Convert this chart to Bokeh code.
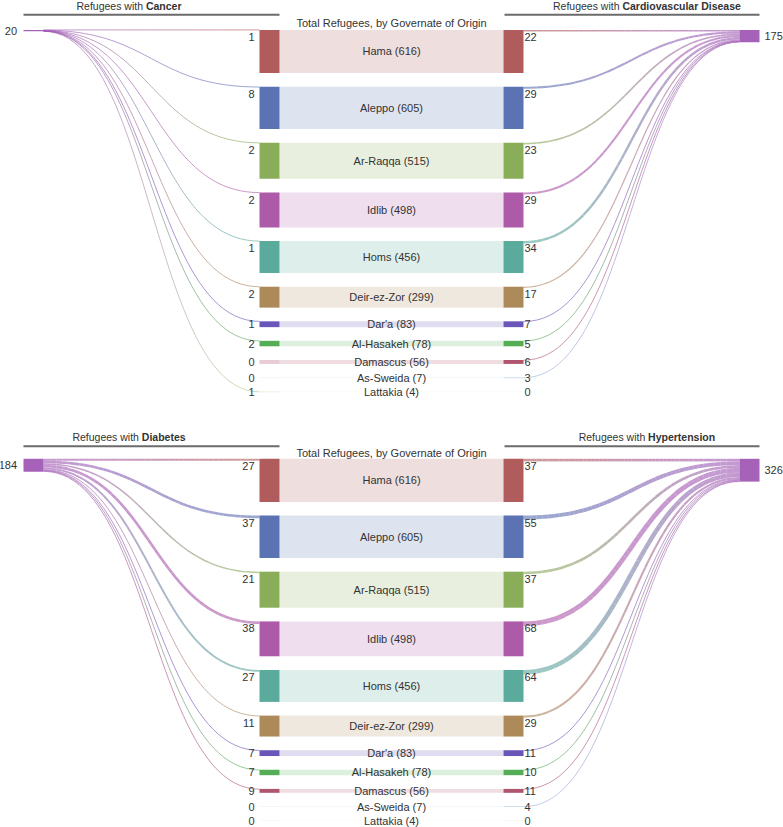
import numpy as np
from bokeh.plotting import figure
from bokeh.models import Range1d
from bokeh.core.properties import value
from bokeh.embed import file_html
from bokeh.resources import INLINE

# ---------------- data ----------------
governates = ["Hama", "Aleppo", "Ar-Raqqa", "Idlib", "Homs", "Deir-ez-Zor",
              "Dar'a", "Al-Hasakeh", "Damascus", "As-Sweida", "Lattakia"]
totals = [616, 605, 515, 498, 456, 299, 83, 78, 56, 7, 4]
cancer = [1, 8, 2, 2, 1, 2, 1, 2, 0, 0, 1]
cardiovascular = [22, 29, 23, 29, 34, 17, 7, 5, 6, 3, 0]
diabetes = [27, 37, 21, 38, 27, 11, 7, 7, 9, 0, 0]
hypertension = [37, 55, 37, 68, 64, 29, 11, 10, 11, 4, 0]
panel_left_names = ["Cancer", "Diabetes"]
panel_right_names = ["Cardiovascular Disease", "Hypertension"]
title_text = "Total Refugees, by Governate of Origin"

# ---------------- style / layout ----------------
gov_colors = ["#b05b5c", "#5b72b3", "#8aad5a", "#ad5aa8", "#5aab9c", "#ad8a5a",
              "#6a55b8", "#55ad55", "#b0556f", "#9ab8d8", "#b8c890"]
disease_color = "#a15ab5"
TXT = "#333333"
FONT = value("Liberation Sans")

W, H = 783, 827
REF_W, REF_H = 783, 827
sx = W / REF_W
sy = H / REF_H

K = 0.07      # px per refugee
GAP = 13.7
tops = [29.4, 458.3]
header_y = [5.2, 436.0]
rule_y = [14.3, 445.8]
title_y = [22.5, 452.0]
left_header_start = [76.0, 71.9]
right_header_start = [552.5, 578.2]
NORMAL_W = 69.4  # screen px of "Refugees with " at 10.5px

NODE_L = (23, 43)
BAR_L = (259, 279)
BAR_R = (503, 523)
NODE_R = (739, 759)

p = figure(width=W, height=H, x_range=Range1d(0, REF_W), y_range=Range1d(REF_H, 0),
           output_backend="svg", toolbar_location=None, min_border=0,
           x_axis_type=None, y_axis_type=None)
p.grid.visible = False
p.outline_line_color = None
p.background_fill_color = "white"
p.border_fill_color = "white"


def hex2rgb(h):
    h = h.lstrip("#")
    return np.array([int(h[i:i + 2], 16) for i in (0, 2, 4)], dtype=float)


def rgb2hex(c):
    c = np.clip(np.round(c), 0, 255).astype(int)
    return "#%02x%02x%02x" % tuple(c)


def add_link(x0, y0, x1, y1, w, c0, c1, n=48):
    t = np.linspace(0, 1, n + 1)
    xm = (x0 + x1) / 2.0
    bx = (1 - t) ** 3 * x0 + 3 * (1 - t) ** 2 * t * xm + 3 * (1 - t) * t ** 2 * xm + t ** 3 * x1
    by = (1 - t) ** 3 * y0 + 3 * (1 - t) ** 2 * t * y0 + 3 * (1 - t) * t ** 2 * y1 + t ** 3 * y1
    a, b = hex2rgb(c0), hex2rgb(c1)
    tm = (t[:-1] + t[1:]) / 2
    cols = [rgb2hex(a + (b - a) * s) for s in tm]
    p.segment(x0=bx[:-1], y0=by[:-1], x1=bx[1:], y1=by[1:], line_color=cols,
              line_width=max(1.0, w * sy), line_alpha=0.62, line_cap="butt")


panels = [(cancer, cardiovascular), (diabetes, hypertension)]
tot = np.array(totals, dtype=float)
heights = tot * K

for pi, (lvals, rvals) in enumerate(panels):
    top0 = tops[pi]
    gtops = top0 + np.concatenate([[0], np.cumsum(heights[:-1] + GAP)])
    gbots = gtops + heights

    # links
    for side, vals in (("L", lvals), ("R", rvals)):
        cum = 0.0
        for i, v in enumerate(vals):
            w = v * K
            if v > 0:
                ynode = top0 + cum + w / 2
                ygov = gtops[i] + w / 2
                if side == "L":
                    add_link(NODE_L[1], ynode, BAR_L[0], ygov, w, disease_color, gov_colors[i])
                else:
                    add_link(BAR_R[1], ygov, NODE_R[0], ynode, w, gov_colors[i], disease_color)
            cum += w

    # middle band
    p.quad(left=BAR_L[1], right=BAR_R[0], top=gtops, bottom=gbots,
           fill_color=gov_colors, fill_alpha=0.2, line_color=None)
    # colored bars
    la = [1.0 if v > 0 else 0.3 for v in lvals]
    ra = [1.0 if v > 0 else 0.3 for v in rvals]
    p.quad(left=BAR_L[0], right=BAR_L[1], top=gtops, bottom=gbots,
           fill_color=gov_colors, fill_alpha=la, line_color=None)
    p.quad(left=BAR_R[0], right=BAR_R[1], top=gtops, bottom=gbots,
           fill_color=gov_colors, fill_alpha=ra, line_color=None)

    # disease nodes
    lsum, rsum = sum(lvals), sum(rvals)
    p.quad(left=[NODE_L[0], NODE_R[0]], right=[NODE_L[1], NODE_R[1]],
           top=[top0, top0], bottom=[top0 + lsum * K, top0 + rsum * K],
           fill_color=disease_color, fill_alpha=0.95, line_color=None)
    p.text(x=[16.5], y=[top0 + lsum * K / 2], text=[str(lsum)], text_align="right",
           text_baseline="middle", text_font=FONT, text_font_size="11px", text_color=TXT)
    p.text(x=[764], y=[top0 + rsum * K / 2], text=[str(rsum)], text_align="left",
           text_baseline="middle", text_font=FONT, text_font_size="11px", text_color=TXT)

    # governate labels
    centers = (gtops + gbots) / 2
    p.text(x=[391] * len(governates), y=centers,
           text=[f"{g} ({t})" for g, t in zip(governates, totals)],
           text_align="center", text_baseline="middle", text_font=FONT,
           text_font_size="11px", text_color=TXT)
    # count labels
    cy = gtops + np.minimum(heights / 2, 7)
    p.text(x=[254] * len(governates), y=cy, text=[str(v) for v in lvals],
           text_align="right", text_baseline="middle", text_font=FONT,
           text_font_size="11px", text_color=TXT)
    p.text(x=[524] * len(governates), y=cy, text=[str(v) for v in rvals],
           text_align="left", text_baseline="middle", text_font=FONT,
           text_font_size="11px", text_color=TXT)

    # title
    p.text(x=[391], y=[title_y[pi]], text=[title_text], text_align="center",
           text_baseline="middle", text_font=FONT, text_font_size="11px", text_color=TXT)

    # header rules
    p.segment(x0=[NODE_L[0], BAR_R[0] + 1], y0=[rule_y[pi]] * 2,
              x1=[BAR_L[1], NODE_R[1]], y1=[rule_y[pi]] * 2,
              line_color="#6b6b6b", line_width=2)
    # headers
    for xs, nm in ((left_header_start[pi], panel_left_names[pi]),
                   (right_header_start[pi], panel_right_names[pi])):
        p.text(x=[xs], y=[header_y[pi]], text=["Refugees with"], text_align="left",
               text_baseline="middle", text_font=FONT, text_font_size="10.5px", text_color=TXT)
        p.text(x=[xs + NORMAL_W / sx], y=[header_y[pi]], text=[nm], text_align="left",
               text_baseline="middle", text_font=FONT, text_font_size="10.5px",
               text_font_style="bold", text_color=TXT)

open("out.html", "w").write(file_html(p, INLINE))
